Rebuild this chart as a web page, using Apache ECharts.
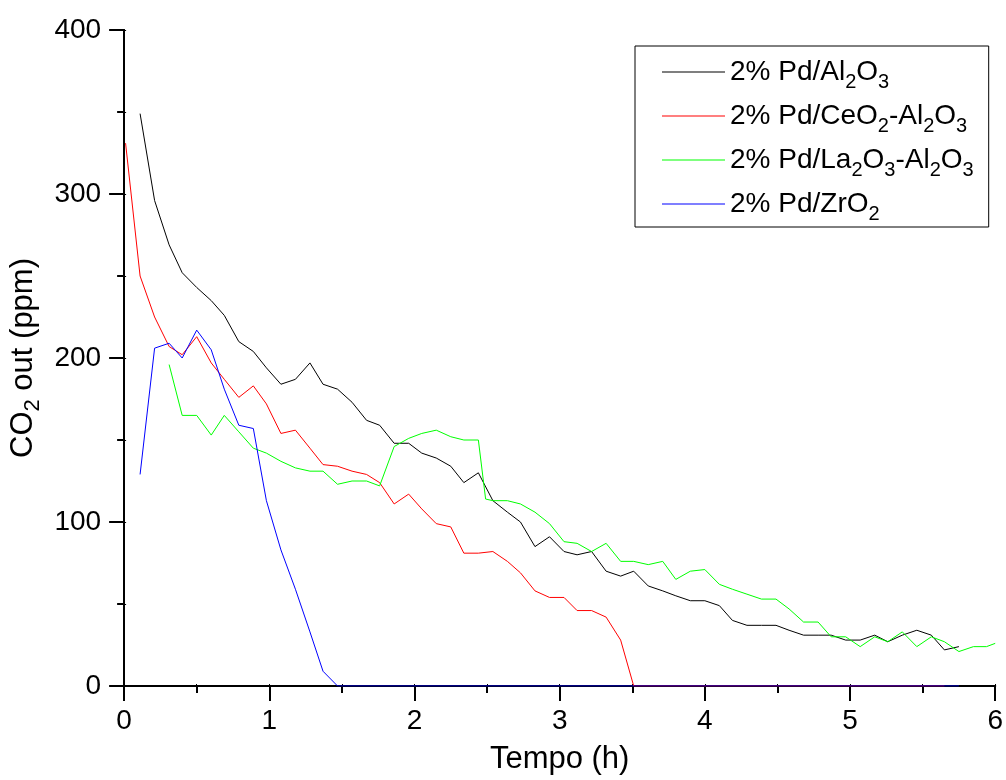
<!DOCTYPE html>
<html>
<head>
<meta charset="utf-8">
<script src="https://cdn.jsdelivr.net/npm/echarts@6/dist/echarts.min.js"></script>
<style>
  html, body { margin: 0; padding: 0; background: #fff; }
  #chart { width: 1006px; height: 780px; }
</style>
</head>
<body>
<div id="chart"></div>
<script>
// CO2 outlet concentration (ppm) versus time on stream (h) for four Pd catalysts.

// 2% Pd/Al2O3
const timeAl = [0.11,0.21,0.31,0.40,0.50,0.60,0.69,0.79,0.89,0.98,
  1.08,1.18,1.28,1.37,1.47,1.57,1.67,1.76,1.86,1.96,
  2.05,2.15,2.25,2.34,2.44,2.54,2.64,2.73,2.83,2.93,
  3.03,3.12,3.22,3.32,3.42,3.51,3.61,3.71,3.80,3.90,
  4.00,4.10,4.19,4.29,4.39,4.49,4.58,4.68,4.78,4.87,
  4.97,5.07,5.17,5.26,5.36,5.46,5.56,5.65,5.75];
const co2Al = [349,296,269,252,243,235,226,210,204,194,
  184,187,197,184,181,173,162,159,148,148,
  142,139,134,124,130,113,106,100,85,91,
  82,80,82,70,67,70,61,58,55,52,
  52,49,40,37,37,37,34,31,31,31,
  28,28,31,27,31,34,31,22,24];

// 2% Pd/CeO2-Al2O3
const timeCe = [0.01,0.11,0.21,0.31,0.40,0.50,0.60,0.69,0.79,0.89,
  0.98,1.08,1.18,1.28,1.37,1.47,1.57,1.67,1.76,1.86,
  1.96,2.05,2.15,2.25,2.34,2.44,2.54,2.64,2.73,2.83,
  2.93,3.03,3.12,3.22,3.32,3.42,3.51,5.65];
const co2Ce = [331,250,225,207,202,213,197,187,176,183,
  172,154,156,145,135,134,131,129,124,111,
  117,108,99,97,81,81,82,76,69,58,
  54,54,46,46,42,28,0,0];

// 2% Pd/La2O3-Al2O3
const timeLa = [0.31,0.40,0.50,0.60,0.69,0.79,0.89,0.98,1.08,1.18,
  1.28,1.37,1.47,1.57,1.67,1.76,1.86,1.96,2.05,2.15,
  2.25,2.34,2.44,2.49,2.54,2.64,2.73,2.83,2.93,3.03,
  3.12,3.22,3.32,3.42,3.51,3.61,3.71,3.80,3.90,4.00,
  4.10,4.19,4.29,4.39,4.49,4.58,4.68,4.78,4.87,4.97,
  5.07,5.17,5.26,5.36,5.46,5.56,5.65,5.75,5.85,5.94,6.00];
const co2La = [196,165,165,153,165,155,145,142,137,133,
  131,131,123,125,125,122,146,151,154,156,
  152,150,150,114,113,113,111,106,99,88,
  87,82,87,76,76,74,76,65,70,71,
  62,59,56,53,53,47,39,39,30,30,
  24,30,27,33,24,30,27,21,24,24,26];

// 2% Pd/ZrO2
const timeZr = [0.11,0.21,0.31,0.40,0.50,0.60,0.69,0.79,0.89,0.98,
  1.08,1.18,1.28,1.37,1.47,5.75];
const co2Zr = [129,206,209,200,217,205,181,159,157,113,
  83,59,33,9,0,0];

const xTicks = [0, 1, 2, 3, 4, 5, 6];
const yTicks = [0, 100, 200, 300, 400];

const seriesNames = ['Al2O3', 'CeO2-Al2O3', 'La2O3-Al2O3', 'ZrO2'];
const seriesColors = ['#000000', '#ff0000', '#00ff00', '#0000ff'];

// Legend labels with chemical subscripts as rich text
const legendLabels = {
  'Al2O3': '{m|2% Pd/Al}{s|2}{m|O}{s|3}',
  'CeO2-Al2O3': '{m|2% Pd/CeO}{s|2}{m|-Al}{s|2}{m|O}{s|3}',
  'La2O3-Al2O3': '{m|2% Pd/La}{s|2}{m|O}{s|3}{m|-Al}{s|2}{m|O}{s|3}',
  'ZrO2': '{m|2% Pd/ZrO}{s|2}'
};

function zip(xs, ys) {
  return xs.map((x, i) => [x, ys[i]]);
}

const allTimes = [timeAl, timeCe, timeLa, timeZr];
const allValues = [co2Al, co2Ce, co2La, co2Zr];

const FONT = '"Liberation Sans", Arial, sans-serif';
const legendRich = {
  m: { fontSize: 28, lineHeight: 40, fontFamily: FONT, color: '#000' },
  s: { fontSize: 20, lineHeight: 8, fontFamily: FONT, color: '#000', verticalAlign: 'bottom' }
};
const titleRich = {
  m: { fontSize: 31, lineHeight: 40, fontFamily: FONT, color: '#000' },
  s: { fontSize: 22, lineHeight: 8, fontFamily: FONT, color: '#000', verticalAlign: 'bottom' }
};

const chart = echarts.init(document.getElementById('chart'), null, { renderer: 'canvas' });

const axisLine = { show: true, lineStyle: { color: '#000', width: 2 } };

chart.setOption({
  animation: false,
  backgroundColor: '#fff',
  textStyle: { fontFamily: FONT, color: '#000' },
  grid: { left: 123, right: 9, top: 30, bottom: 93, containLabel: false },
  legend: {
    orient: 'vertical',
    left: 635,
    top: 46,
    padding: [12, 15, 3, 27],
    itemGap: 10,
    itemWidth: 63,
    itemHeight: 1,
    icon: 'rect',
    borderColor: '#000',
    borderWidth: 1,
    data: seriesNames,
    formatter: name => legendLabels[name],
    textStyle: { rich: legendRich },
    selectedMode: false
  },
  xAxis: [{
    type: 'value',
    min: xTicks[0],
    max: xTicks[xTicks.length - 1],
    interval: 1,
    name: 'Tempo (h)',
    nameLocation: 'middle',
    nameGap: 58,
    nameTextStyle: { fontSize: 31, lineHeight: 31, fontFamily: FONT, color: '#000' },
    axisLine: axisLine,
    axisTick: { show: true, length: 15, lineStyle: { color: '#000', width: 2 } },
    minorTick: { show: true, splitNumber: 2, length: 7, lineStyle: { color: '#000', width: 2 } },
    axisLabel: { fontSize: 28, lineHeight: 28, margin: 21, color: '#000', fontFamily: FONT },
    splitLine: { show: false }
  }, {
    type: 'value',
    position: 'top',
    min: 0, max: 6, interval: 0.5,
    axisLine: axisLine,
    axisTick: { show: true, length: 2, lineStyle: { color: '#000', width: 1 } },
    axisLabel: { show: false },
    splitLine: { show: false }
  }],
  yAxis: [{
    type: 'value',
    min: yTicks[0],
    max: yTicks[yTicks.length - 1],
    interval: 100,
    name: '{m|CO}{s|2}{m| out (ppm)}',
    nameLocation: 'middle',
    nameGap: 74,
    nameTextStyle: { rich: titleRich },
    axisLine: axisLine,
    axisTick: { show: true, length: 15, lineStyle: { color: '#000', width: 2 } },
    minorTick: { show: true, splitNumber: 2, length: 7, lineStyle: { color: '#000', width: 2 } },
    axisLabel: { fontSize: 28, margin: 23, color: '#000', fontFamily: FONT },
    splitLine: { show: false }
  }, {
    type: 'value',
    position: 'right',
    min: 0, max: 400, interval: 50,
    axisLine: axisLine,
    axisTick: { show: true, length: 2, lineStyle: { color: '#000', width: 1 } },
    axisLabel: { show: false },
    splitLine: { show: false }
  }],
  series: seriesNames.map((name, i) => ({
    name: name,
    type: 'line',
    xAxisIndex: 0,
    yAxisIndex: 0,
    data: zip(allTimes[i], allValues[i]),
    showSymbol: false,
    symbol: 'none',
    lineStyle: { color: seriesColors[i], width: 1 },
    itemStyle: { color: seriesColors[i] },
    clip: true
  }))
});
</script>
</body>
</html>
